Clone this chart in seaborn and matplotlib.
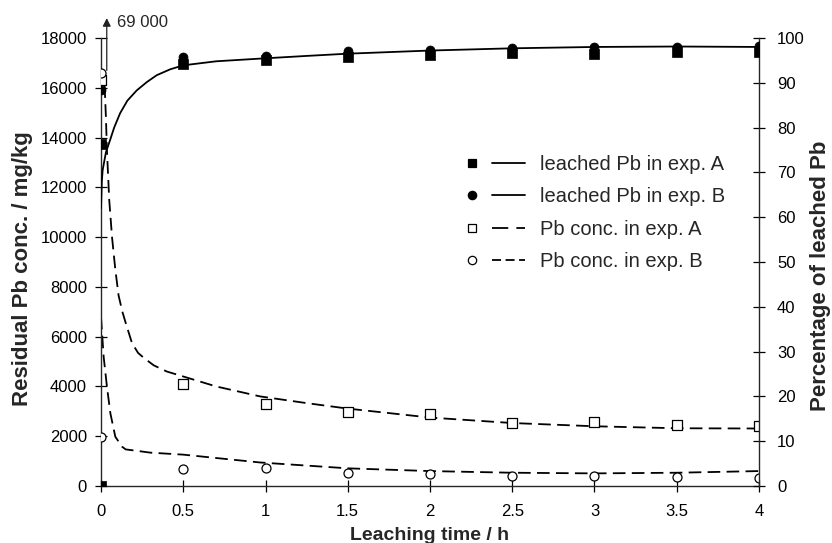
import matplotlib
matplotlib.use("Agg")
import matplotlib.pyplot as plt
from matplotlib.lines import Line2D
from matplotlib.legend_handler import HandlerTuple
import seaborn as sns

# ---- measured data -------------------------------------------------------
# leached Pb (% of initial), right axis
t_leach_a = [0.0, 0.0, 0.5, 1.0, 1.5, 2.0, 2.5, 3.0, 3.5, 4.0]
leach_a = [0.0, 76.4, 94.1, 95.1, 95.7, 96.1, 96.6, 96.5, 96.8, 96.9]
t_leach_b = [0.0, 0.5, 1.0, 1.5, 2.0, 2.5, 3.0, 3.5, 4.0]
leach_b = [88.5, 95.8, 95.9, 97.0, 97.4, 97.8, 98.0, 98.1, 98.3]

# residual Pb concentration (mg/kg), left axis
t_conc_a = [0.0, 0.5, 1.0, 1.5, 2.0, 2.5, 3.0, 3.5, 4.0]
conc_a = [16300, 4100, 3310, 2970, 2880, 2530, 2560, 2440, 2400]
t_conc_b = [0.0, 0.0, 0.5, 1.0, 1.5, 2.0, 2.5, 3.0, 3.5, 4.0]
conc_b = [16600, 1975, 680, 730, 530, 470, 410, 390, 350, 330]

# initial concentration, off scale
initial_conc = 69000

# ---- fitted curves -------------------------------------------------------
t_fit_leach = [0.0, 0.005, 0.01, 0.03, 0.055, 0.08, 0.116, 0.16, 0.217, 0.28,
               0.339, 0.42, 0.5, 0.7, 0.967, 1.25, 1.5, 2.0, 2.5, 3.0, 3.5, 4.0]
fit_leach = [62.0, 68.0, 70.5, 74.5, 77.2, 80.0, 83.2, 86.0, 88.3, 90.2,
             91.7, 93.0, 93.9, 94.8, 95.4, 96.0, 96.5, 97.2, 97.7, 98.0, 98.1, 98.0]

t_fit_a = [0.022, 0.03, 0.036, 0.05, 0.067, 0.087, 0.107, 0.13, 0.148, 0.188,
           0.225, 0.26, 0.32, 0.4, 0.5, 0.7, 0.967, 1.25, 1.5, 2.0, 2.5, 3.0, 3.5, 4.0]
fit_a = [16100, 14800, 13500, 11500, 10000, 8700, 7650, 7000, 6600, 5750,
         5350, 5150, 4850, 4600, 4400, 4000, 3600, 3330, 3110, 2750, 2530, 2400, 2320, 2310]

t_fit_b = [0.0, 0.016, 0.036, 0.057, 0.087, 0.128, 0.15, 0.21, 0.3, 0.5,
           0.967, 1.5, 2.0, 2.5, 3.0, 3.5, 4.0]
fit_b = [6800, 5200, 4000, 2920, 1980, 1580, 1470, 1420, 1340, 1260,
         945, 710, 600, 533, 507, 533, 600]

x_ticks = [0, 0.5, 1, 1.5, 2, 2.5, 3, 3.5, 4]
x_tick_labels = ["0", "0.5", "1", "1.5", "2", "2.5", "3", "3.5", "4"]
left_ticks = list(range(0, 18001, 2000))
right_ticks = list(range(0, 101, 10))

labels = ["leached Pb in exp. A", "leached Pb in exp. B",
          "Pb conc. in exp. A", "Pb conc. in exp. B"]

# ---- style ---------------------------------------------------------------
sns.set_theme(style="ticks")
plt.rcParams["font.family"] = ["Liberation Sans", "DejaVu Sans"]
plt.rcParams["axes.linewidth"] = 1.0

fig = plt.figure(figsize=(8.32, 5.43), dpi=100)
ax = fig.add_axes([101 / 832, 1 - 486 / 543, 658 / 832, 448 / 543])
ax2 = ax.twinx()

dash = (0, (7, 3.5))
msize = 42

# concentrations on the left axis
sns.lineplot(x=t_fit_a, y=fit_a, ax=ax, color="black", lw=1.3, linestyle=dash)
sns.lineplot(x=t_fit_b, y=fit_b, ax=ax, color="black", lw=1.3, linestyle=dash)
sns.scatterplot(x=t_conc_a, y=conc_a, ax=ax, marker="s", s=msize,
                facecolor="white", edgecolor="black", linewidth=0.9, zorder=4)
sns.scatterplot(x=t_conc_b, y=conc_b, ax=ax, marker="o", s=msize,
                facecolor="white", edgecolor="black", linewidth=0.9, zorder=4)

# leached fraction on the right axis
sns.lineplot(x=t_fit_leach, y=fit_leach, ax=ax2, color="black", lw=1.3)
sns.scatterplot(x=t_leach_a, y=leach_a, ax=ax2, marker="s", s=msize,
                color="black", edgecolor="black", linewidth=0.5, zorder=4)
sns.scatterplot(x=t_leach_b, y=leach_b, ax=ax2, marker="o", s=msize,
                color="black", edgecolor="black", linewidth=0.5, zorder=4)

# axes limits and ticks
ax.set_xlim(0, 4)
ax.set_ylim(0, 18000)
ax2.set_ylim(0, 100)
ax.set_xticks(x_ticks, x_tick_labels)
ax.set_yticks(left_ticks, [str(v) for v in left_ticks])
ax2.set_yticks(right_ticks, [str(v) for v in right_ticks])

for a in (ax, ax2):
    a.spines["top"].set_visible(False)
    a.tick_params(direction="inout", length=8, width=0.9, colors="black",
                  labelsize=12)
    a.set_facecolor("none")
ax.spines["right"].set_visible(False)
ax2.spines["left"].set_visible(False)
ax2.spines["bottom"].set_visible(False)
ax.tick_params(axis="y", pad=6)
ax.tick_params(axis="x", pad=9)
ax2.tick_params(axis="y", pad=9)

ax.set_xlabel("Leaching time / h", fontsize=14, fontweight="bold")
ax.set_ylabel("Residual Pb conc. / mg/kg", fontsize=16, fontweight="bold")
ax2.set_ylabel("Percentage of leached Pb", fontsize=16, fontweight="bold")
ax.xaxis.set_label_coords(0.5, -0.092)
ax.yaxis.set_label_coords(-0.104, 0.485)
ax2.yaxis.set_label_coords(1.077, 0.47)

# off-scale initial concentration
ax.annotate("", xy=(0.035, 18800), xytext=(0.035, 16700),
            arrowprops=dict(arrowstyle="-|>", color="#222222", lw=0.9,
                            mutation_scale=12, shrinkA=0, shrinkB=0),
            annotation_clip=False)
ax.text(0.1, 18620, f"{initial_conc:,}".replace(",", " "), fontsize=12,
        va="center", ha="left", clip_on=False)

# legend: marker followed by line style
def handle(marker, filled, ls):
    m = Line2D([], [], linestyle="none", marker=marker, markersize=6,
               markerfacecolor="black" if filled else "white",
               markeredgecolor="black", markeredgewidth=0.9)
    ln = Line2D([], [], color="black", lw=1.3, linestyle=ls)
    return (m, ln)

handles = [handle("s", True, "-"), handle("o", True, "-"),
           handle("s", False, (0, (9, 4.5))), handle("o", False, (0, (5, 2.5)))]
fig.legend(handles, labels, handler_map={tuple: HandlerTuple(ndivide=None, pad=0.18)},
           loc="center left", bbox_to_anchor=(455 / 832, 1 - 213 / 543),
           bbox_transform=fig.transFigure, frameon=False, fontsize=14.5,
           handlelength=3.5, handletextpad=0.72, labelspacing=0.66,
           borderpad=0, borderaxespad=0)

fig.savefig("out.png", dpi=100)
